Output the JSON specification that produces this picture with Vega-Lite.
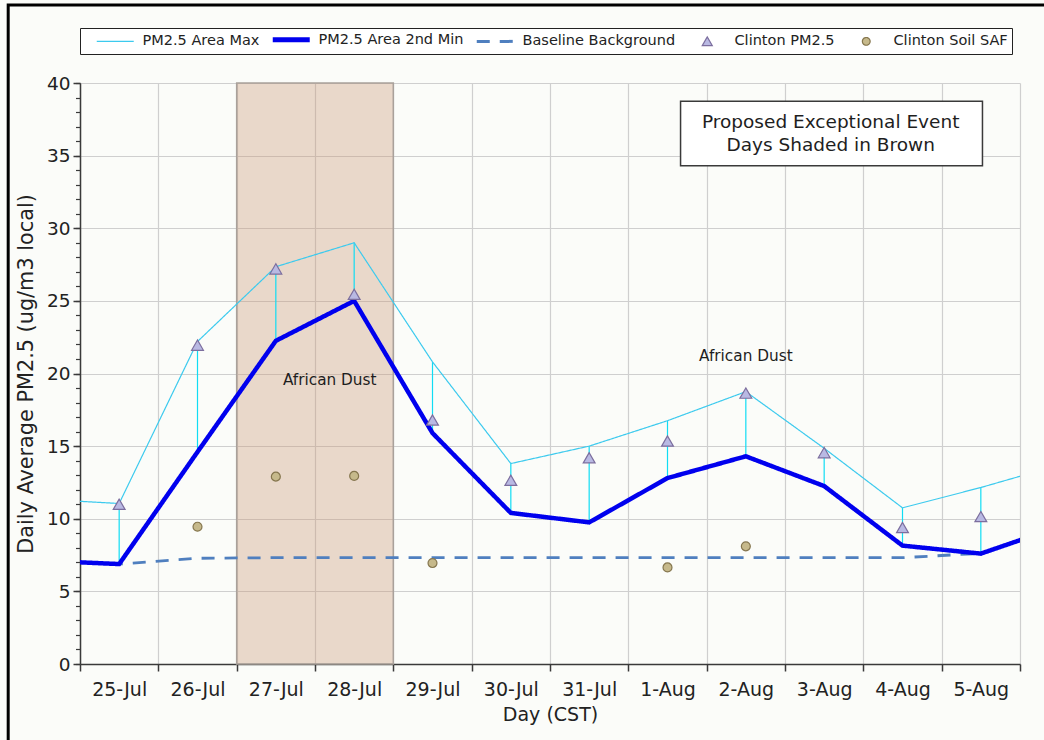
{
  "$schema": "https://vega.github.io/schema/vega-lite/v6.json",
  "width": 940,
  "height": 581,
  "autosize": {"type": "none"},
  "padding": {"left": 80, "top": 83, "right": 24, "bottom": 76},
  "background": "#fbfcf9",
  "config": {
    "font": "DejaVu Sans",
    "view": {"stroke": null},
    "axis": {"labelColor": "#222222", "titleColor": "#222222", "titleFontWeight": "normal"},
    "legend": {
      "orient": "none", "legendX": 0, "legendY": -55, "direction": "horizontal", "columns": 5,
      "labelFontSize": 14.5, "labelColor": "#222222", "strokeColor": "#222222", "fillColor": "#ffffff",
      "padding": 4, "symbolSize": 1369
    }
  },
  "resolve": {"axis": {"x": "independent", "y": "independent"}},
  "datasets": {
    "pm": [
      {"date": "2020-07-24T12:00:00", "series": "Baseline Background", "value": 7.06},
      {"date": "2020-07-25T12:00:00", "series": "Baseline Background", "value": 6.88},
      {"date": "2020-07-26T12:00:00", "series": "Baseline Background", "value": 7.28},
      {"date": "2020-07-27T12:00:00", "series": "Baseline Background", "value": 7.32},
      {"date": "2020-07-28T12:00:00", "series": "Baseline Background", "value": 7.32},
      {"date": "2020-07-29T12:00:00", "series": "Baseline Background", "value": 7.32},
      {"date": "2020-07-30T12:00:00", "series": "Baseline Background", "value": 7.32},
      {"date": "2020-07-31T12:00:00", "series": "Baseline Background", "value": 7.32},
      {"date": "2020-08-01T12:00:00", "series": "Baseline Background", "value": 7.32},
      {"date": "2020-08-02T12:00:00", "series": "Baseline Background", "value": 7.32},
      {"date": "2020-08-03T12:00:00", "series": "Baseline Background", "value": 7.32},
      {"date": "2020-08-04T12:00:00", "series": "Baseline Background", "value": 7.32},
      {"date": "2020-08-05T12:00:00", "series": "Baseline Background", "value": 7.62},

      {"date": "2020-07-24T12:00:00", "series": "PM2.5 Area Max", "value": 11.35},
      {"date": "2020-07-25T12:00:00", "series": "PM2.5 Area Max", "value": 11.05},
      {"date": "2020-07-26T12:00:00", "series": "PM2.5 Area Max", "value": 22.2},
      {"date": "2020-07-27T12:00:00", "series": "PM2.5 Area Max", "value": 27.35},
      {"date": "2020-07-28T12:00:00", "series": "PM2.5 Area Max", "value": 29.0},
      {"date": "2020-07-29T12:00:00", "series": "PM2.5 Area Max", "value": 20.8},
      {"date": "2020-07-30T12:00:00", "series": "PM2.5 Area Max", "value": 13.8},
      {"date": "2020-07-31T12:00:00", "series": "PM2.5 Area Max", "value": 15.0},
      {"date": "2020-08-01T12:00:00", "series": "PM2.5 Area Max", "value": 16.75},
      {"date": "2020-08-02T12:00:00", "series": "PM2.5 Area Max", "value": 18.75},
      {"date": "2020-08-03T12:00:00", "series": "PM2.5 Area Max", "value": 14.85},
      {"date": "2020-08-04T12:00:00", "series": "PM2.5 Area Max", "value": 10.75},
      {"date": "2020-08-05T12:00:00", "series": "PM2.5 Area Max", "value": 12.15},
      {"date": "2020-08-06T12:00:00", "series": "PM2.5 Area Max", "value": 13.7},

      {"date": "2020-07-24T12:00:00", "series": "PM2.5 Area 2nd Min", "value": 7.12},
      {"date": "2020-07-25T12:00:00", "series": "PM2.5 Area 2nd Min", "value": 6.88},
      {"date": "2020-07-26T12:00:00", "series": "PM2.5 Area 2nd Min", "value": 14.6},
      {"date": "2020-07-27T12:00:00", "series": "PM2.5 Area 2nd Min", "value": 22.25},
      {"date": "2020-07-28T12:00:00", "series": "PM2.5 Area 2nd Min", "value": 25.0},
      {"date": "2020-07-29T12:00:00", "series": "PM2.5 Area 2nd Min", "value": 15.9},
      {"date": "2020-07-30T12:00:00", "series": "PM2.5 Area 2nd Min", "value": 10.4},
      {"date": "2020-07-31T12:00:00", "series": "PM2.5 Area 2nd Min", "value": 9.75},
      {"date": "2020-08-01T12:00:00", "series": "PM2.5 Area 2nd Min", "value": 12.8},
      {"date": "2020-08-02T12:00:00", "series": "PM2.5 Area 2nd Min", "value": 14.3},
      {"date": "2020-08-03T12:00:00", "series": "PM2.5 Area 2nd Min", "value": 12.25},
      {"date": "2020-08-04T12:00:00", "series": "PM2.5 Area 2nd Min", "value": 8.15},
      {"date": "2020-08-05T12:00:00", "series": "PM2.5 Area 2nd Min", "value": 7.6},
      {"date": "2020-08-06T12:00:00", "series": "PM2.5 Area 2nd Min", "value": 9.45},

      {"date": "2020-07-25T12:00:00", "series": "Clinton PM2.5", "value": 11.0},
      {"date": "2020-07-26T12:00:00", "series": "Clinton PM2.5", "value": 21.95},
      {"date": "2020-07-27T12:00:00", "series": "Clinton PM2.5", "value": 27.2},
      {"date": "2020-07-28T12:00:00", "series": "Clinton PM2.5", "value": 25.45},
      {"date": "2020-07-29T12:00:00", "series": "Clinton PM2.5", "value": 16.8},
      {"date": "2020-07-30T12:00:00", "series": "Clinton PM2.5", "value": 12.65},
      {"date": "2020-07-31T12:00:00", "series": "Clinton PM2.5", "value": 14.2},
      {"date": "2020-08-01T12:00:00", "series": "Clinton PM2.5", "value": 15.35},
      {"date": "2020-08-02T12:00:00", "series": "Clinton PM2.5", "value": 18.65},
      {"date": "2020-08-03T12:00:00", "series": "Clinton PM2.5", "value": 14.55},
      {"date": "2020-08-04T12:00:00", "series": "Clinton PM2.5", "value": 9.4},
      {"date": "2020-08-05T12:00:00", "series": "Clinton PM2.5", "value": 10.15},

      {"date": "2020-07-26T12:00:00", "series": "Clinton Soil SAF", "value": 9.45},
      {"date": "2020-07-27T12:00:00", "series": "Clinton Soil SAF", "value": 12.9},
      {"date": "2020-07-28T12:00:00", "series": "Clinton Soil SAF", "value": 12.95},
      {"date": "2020-07-29T12:00:00", "series": "Clinton Soil SAF", "value": 6.95},
      {"date": "2020-08-01T12:00:00", "series": "Clinton Soil SAF", "value": 6.65},
      {"date": "2020-08-02T12:00:00", "series": "Clinton Soil SAF", "value": 8.1}
    ],
    "events": [
      {"start": "2020-07-27T00:00:00", "end": "2020-07-29T00:00:00"}
    ],
    "one": [{}]
  },
  "layer": [
    {
      "description": "outer chart frame",
      "data": {"name": "one"},
      "mark": {"type": "rect", "fill": null, "stroke": "#000000", "strokeWidth": 3, "clip": false},
      "encoding": {
        "x": {"datum": {"year": 2020, "month": 7, "date": 24, "hours": 2}, "type": "temporal", "axis": null},
        "x2": {"datum": {"year": 2020, "month": 8, "date": 8}},
        "y": {"datum": 45.37, "type": "quantitative", "axis": null},
        "y2": {"datum": -8}
      }
    },
    {
      "description": "exceptional event days",
      "data": {"name": "events"},
      "mark": {"type": "rect", "fill": "#ca9878", "fillOpacity": 0.36, "stroke": "#a9a19b", "strokeWidth": 1.5},
      "encoding": {
        "x": {
          "field": "start", "type": "temporal",
          "scale": {"domain": [{"year": 2020, "month": 7, "date": 25}, {"year": 2020, "month": 8, "date": 6}], "nice": false},
          "axis": {
            "orient": "bottom",
            "values": [
              {"year": 2020, "month": 7, "date": 25}, {"year": 2020, "month": 7, "date": 26}, {"year": 2020, "month": 7, "date": 27},
              {"year": 2020, "month": 7, "date": 28}, {"year": 2020, "month": 7, "date": 29}, {"year": 2020, "month": 7, "date": 30},
              {"year": 2020, "month": 7, "date": 31}, {"year": 2020, "month": 8, "date": 1}, {"year": 2020, "month": 8, "date": 2},
              {"year": 2020, "month": 8, "date": 3}, {"year": 2020, "month": 8, "date": 4}, {"year": 2020, "month": 8, "date": 5},
              {"year": 2020, "month": 8, "date": 6}
            ],
            "labels": false, "title": null, "grid": true, "gridColor": "#cfcfcf", "gridWidth": 1.2,
            "ticks": true, "tickSize": 7, "tickColor": "#3a3a3a", "tickWidth": 1.5,
            "domain": true, "domainColor": "#3a3a3a", "domainWidth": 1.5
          }
        },
        "x2": {"field": "end"}
      }
    },
    {
      "description": "note box",
      "data": {"name": "one"},
      "mark": {"type": "rect", "fill": "#ffffff", "stroke": "#3a3a3a", "strokeWidth": 1.5},
      "encoding": {
        "x": {"datum": {"year": 2020, "month": 8, "date": 1, "hours": 16}, "type": "temporal", "axis": null},
        "x2": {"datum": {"year": 2020, "month": 8, "date": 5, "hours": 12, "minutes": 30}},
        "y": {"datum": 38.75, "type": "quantitative", "axis": null},
        "y2": {"datum": 34.3}
      }
    },
    {
      "description": "note text",
      "data": {"name": "one"},
      "mark": {"type": "text", "fontSize": 18.5, "color": "#1e1e1e", "lineHeight": 23, "align": "center", "baseline": "middle"},
      "encoding": {
        "x": {"datum": {"year": 2020, "month": 8, "date": 3, "hours": 14}, "type": "temporal", "axis": null},
        "y": {"datum": 37.3, "type": "quantitative", "axis": null},
        "text": {"value": ["Proposed Exceptional Event", "Days Shaded in Brown"]}
      }
    },
    {
      "description": "high-low drop lines between area max and 2nd min",
      "data": {"name": "pm"},
      "transform": [{"filter": {"field": "series", "oneOf": ["PM2.5 Area Max", "PM2.5 Area 2nd Min"]}}],
      "mark": {"type": "rule", "color": "#10dcf4", "strokeWidth": 1.2, "clip": true},
      "encoding": {
        "x": {
          "field": "date", "type": "temporal",
          "axis": {
            "orient": "bottom",
            "values": [
              {"year": 2020, "month": 7, "date": 25, "hours": 12}, {"year": 2020, "month": 7, "date": 26, "hours": 12},
              {"year": 2020, "month": 7, "date": 27, "hours": 12}, {"year": 2020, "month": 7, "date": 28, "hours": 12},
              {"year": 2020, "month": 7, "date": 29, "hours": 12}, {"year": 2020, "month": 7, "date": 30, "hours": 12},
              {"year": 2020, "month": 7, "date": 31, "hours": 12}, {"year": 2020, "month": 8, "date": 1, "hours": 12},
              {"year": 2020, "month": 8, "date": 2, "hours": 12}, {"year": 2020, "month": 8, "date": 3, "hours": 12},
              {"year": 2020, "month": 8, "date": 4, "hours": 12}, {"year": 2020, "month": 8, "date": 5, "hours": 12}
            ],
            "format": "%-d-%b", "labelFontSize": 19, "labelPadding": 16, "labelFlush": false, "labelOverlap": false,
            "ticks": false, "tickSize": 0, "grid": false, "domain": false,
            "title": "Day (CST)", "titleFontSize": 19, "titlePadding": 6
          }
        },
        "y": {
          "aggregate": "max", "field": "value", "type": "quantitative",
          "scale": {"domain": [0, 40], "nice": false},
          "axis": {
            "orient": "left",
            "values": [0, 5, 10, 15, 20, 25, 30, 35, 40],
            "labelFontSize": 18.5, "labelPadding": 3, "labelFlush": false,
            "grid": true, "gridColor": "#cfcfcf", "gridWidth": 1.2,
            "tickSize": 7, "tickColor": "#3a3a3a", "tickWidth": 1.5,
            "domain": true, "domainColor": "#3a3a3a", "domainWidth": 1.5,
            "title": "Daily Average PM2.5 (ug/m3 local)", "titleFontSize": 20.8, "titlePadding": 10
          }
        },
        "y2": {"aggregate": "min", "field": "value"}
      }
    },
    {
      "description": "area max, 2nd min and baseline lines",
      "data": {"name": "pm"},
      "transform": [{"filter": {"field": "series", "oneOf": ["Baseline Background", "PM2.5 Area Max", "PM2.5 Area 2nd Min"]}}],
      "mark": {"type": "line", "clip": true},
      "encoding": {
        "x": {"field": "date", "type": "temporal", "axis": null},
        "y": {
          "field": "value", "type": "quantitative",
          "axis": {
            "orient": "left",
            "values": [0,1,2,3,4,5,6,7,8,9,10,11,12,13,14,15,16,17,18,19,20,21,22,23,24,25,26,27,28,29,30,31,32,33,34,35,36,37,38,39,40],
            "labels": false, "grid": false, "domain": false, "title": null,
            "tickSize": 4.5, "tickColor": "#3a3a3a", "tickWidth": 1.2
          }
        },
        "stroke": {
          "field": "series", "type": "nominal",
          "scale": {
            "domain": ["PM2.5 Area Max", "PM2.5 Area 2nd Min", "Baseline Background", "Clinton PM2.5", "Clinton Soil SAF"],
            "range": ["#3ccaee", "#0000ee", "#4f7fbf", "#7c6e9e", "#85764e"]
          },
          "legend": {
            "title": null,
            "symbolOffset": 24,
            "labelOffset": 20,
            "columnPadding": -3,
            "encode": {
              "symbols": {
                "update": {
                  "shape": {"signal": "datum.value === 'Clinton PM2.5' ? 'triangle-up' : datum.value === 'Clinton Soil SAF' ? 'circle' : 'stroke'"},
                  "size": {"signal": "datum.value === 'Clinton PM2.5' ? 100 : datum.value === 'Clinton Soil SAF' ? 60 : 1369"},
                  "strokeWidth": {"signal": "datum.value === 'PM2.5 Area 2nd Min' ? 5 : datum.value === 'Baseline Background' ? 3 : 1.2"},
                  "strokeDash": {"signal": "datum.value === 'Baseline Background' ? [13, 10] : [1, 0]"},
                  "fill": {"signal": "datum.value === 'Clinton PM2.5' ? '#b9b9e3' : datum.value === 'Clinton Soil SAF' ? '#c6b98b' : 'transparent'"},
                  "opacity": {"value": 1}
                }
              }
            }
          }
        },
        "strokeWidth": {
          "condition": [
            {"test": "datum.series === 'PM2.5 Area 2nd Min'", "value": 4.5},
            {"test": "datum.series === 'Baseline Background'", "value": 2.8}
          ],
          "value": 1.2
        },
        "strokeDash": {
          "condition": {"test": "datum.series === 'Baseline Background'", "value": [13, 10]},
          "value": [1, 0]
        }
      }
    },
    {
      "description": "Clinton monitor points",
      "data": {"name": "pm"},
      "transform": [{"filter": {"field": "series", "oneOf": ["Clinton PM2.5", "Clinton Soil SAF"]}}],
      "mark": {"type": "point", "filled": true, "strokeWidth": 1.2, "opacity": 1, "clip": true},
      "encoding": {
        "x": {"field": "date", "type": "temporal", "axis": null},
        "y": {"field": "value", "type": "quantitative", "axis": null},
        "stroke": {"field": "series", "type": "nominal"},
        "fill": {
          "condition": {"test": "datum.series === 'Clinton PM2.5'", "value": "#b9b9e3"},
          "value": "#c6b98b"
        },
        "shape": {
          "condition": {"test": "datum.series === 'Clinton PM2.5'", "value": "triangle-up"},
          "value": "circle"
        },
        "size": {
          "condition": {"test": "datum.series === 'Clinton PM2.5'", "value": 140},
          "value": 80
        }
      }
    },
    {
      "description": "dust label over the event days",
      "data": {"name": "one"},
      "mark": {"type": "text", "fontSize": 15.3, "color": "#1e1e1e", "align": "center", "baseline": "middle"},
      "encoding": {
        "x": {"datum": {"year": 2020, "month": 7, "date": 28, "hours": 4, "minutes": 30}, "type": "temporal", "axis": null},
        "y": {"datum": 19.55, "type": "quantitative", "axis": null},
        "text": {"value": "African Dust"}
      }
    },
    {
      "description": "dust label over 2-Aug",
      "data": {"name": "one"},
      "mark": {"type": "text", "fontSize": 15.3, "color": "#1e1e1e", "align": "center", "baseline": "middle"},
      "encoding": {
        "x": {"datum": {"year": 2020, "month": 8, "date": 2, "hours": 12}, "type": "temporal", "axis": null},
        "y": {"datum": 21.2, "type": "quantitative", "axis": null},
        "text": {"value": "African Dust"}
      }
    }
  ]
}
